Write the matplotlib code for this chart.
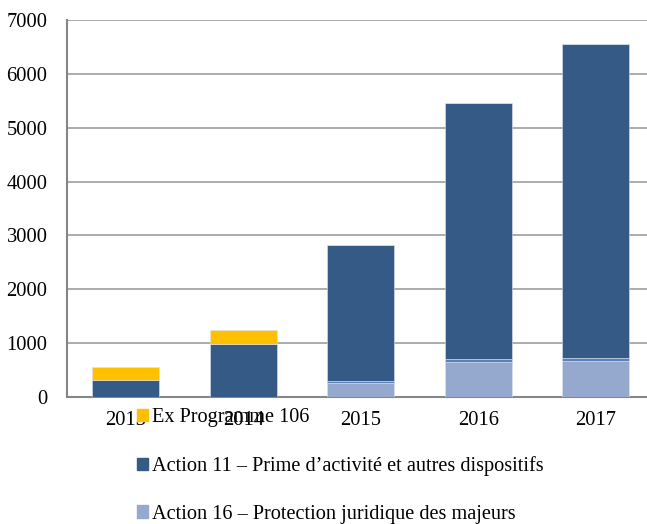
import numpy as np
from matplotlib import pyplot as plt
from matplotlib.patches import Patch

annees = ['2013', '2014', '2015', '2016', '2017']
action16 = [0, 0, 260, 655, 673]
autre = [0, 0, 40, 50, 50]
action11 = [315, 985, 2520, 4750, 5822]
ex_prog106 = [250, 255, 0, 0, 0]

labels = ['Ex Programme 106',
          'Action 11 \u2013 Prime d\u2019activit\u00e9 et autres dispositifs',
          'Action 16 \u2013 Protection juridique des majeurs']
c_jaune = '#FFC000'
c_fonce = '#365A86'
c_clair = '#95A9CF'
c_moyen = '#5B81B6'

plt.rcParams['font.family'] = ['Liberation Serif', 'DejaVu Serif']

fig = plt.figure(figsize=(6.47, 5.24), dpi=100)
ax = fig.add_axes([0.1036, 0.2424, 0.9084, 0.7195])

x = np.arange(len(annees))
w = 0.57
bas = np.zeros(len(annees))
for vals, col in [(action16, c_clair), (autre, c_moyen), (action11, c_fonce), (ex_prog106, c_jaune)]:
    ax.bar(x, vals, w, bottom=bas, color=col, edgecolor='#DCE3EF', linewidth=0.4, zorder=3)
    bas += np.array(vals)

ax.set_xlim(-0.5, 4.5)
ax.set_ylim(0, 7000)
ax.set_yticks(range(0, 7001, 1000))
ax.set_xticks(x)
ax.set_xticklabels(annees)
ax.yaxis.grid(True, color='#A6A6A6', linewidth=1.3, zorder=0)
ax.tick_params(axis='both', length=0, labelsize=14.8)
ax.tick_params(axis='y', pad=14)
ax.tick_params(axis='x', pad=10)
for s in ['top', 'right']:
    ax.spines[s].set_visible(False)
for s in ['left', 'bottom']:
    ax.spines[s].set_color('#868686')
    ax.spines[s].set_linewidth(1.5)

handles = [Patch(color=c_jaune), Patch(color=c_fonce), Patch(color=c_clair)]
fig.legend(handles, labels, loc='upper left', bbox_to_anchor=(0.211, 0.221),
           frameon=False, fontsize=14.6, handlelength=0.55, handleheight=0.55,
           handletextpad=0.2, labelspacing=1.42, borderpad=0, borderaxespad=0)

plt.savefig('out.png', dpi=100)
